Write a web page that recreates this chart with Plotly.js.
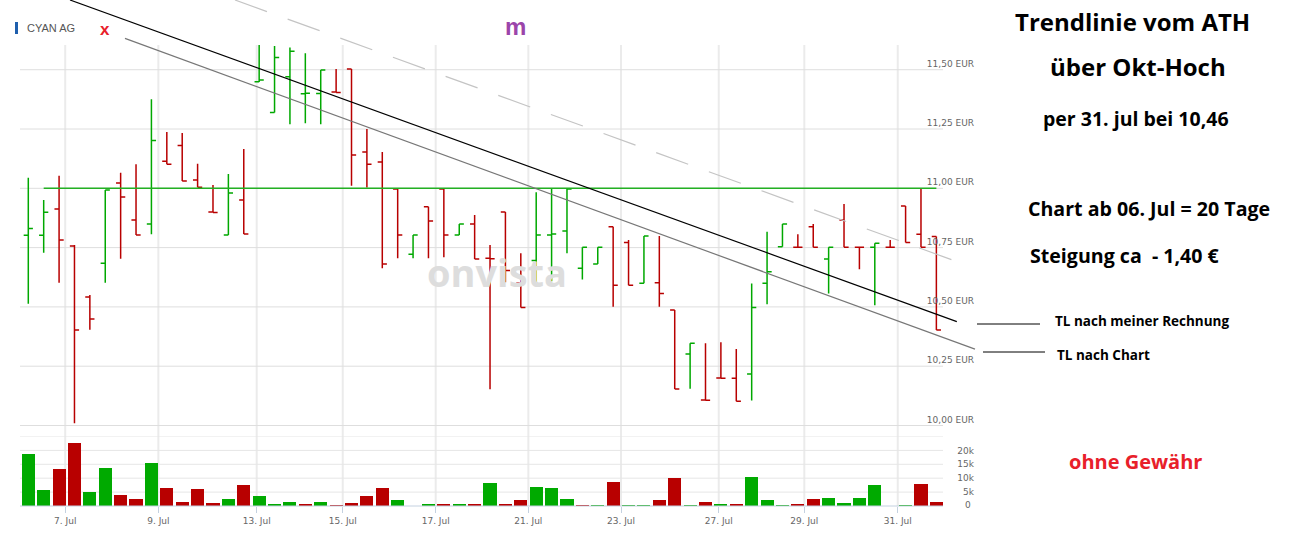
<!DOCTYPE html>
<html>
<head>
<meta charset="utf-8">
<script src="https://cdn.plot.ly/plotly-3.0.1.min.js"></script>
<style>html,body{margin:0;padding:0;background:#fff}#chart{width:1305px;height:537px}</style>
</head>
<body>
<div id="chart"></div>
<script>
// ---- data (bar index = 3 bars per trading day, 6 Jul .. 31 Jul) ----
const barIndex = Array.from({length: 60}, (_, i) => i);
const openP  = [10.802,10.802,10.913,10.757,10.542,10.684,11.022,10.866,10.850,11.114,
                11.181,11.035,10.900,10.803,10.951,11.449,11.320,11.470,11.399,11.400,
                11.406,11.503,11.153,11.111,10.997,10.722,10.922,10.997,10.803,10.850,
                10.705,10.900,10.600,10.696,10.803,10.820,10.663,10.681,10.838,10.772,
                10.600,10.602,10.487,10.301,10.107,10.200,10.199,10.217,10.600,10.754,
                10.752,10.838,10.702,10.866,10.752,10.751,10.752,10.925,10.806,10.797];
const highP  = [11.045,10.951,11.053,10.761,10.550,10.993,11.066,11.102,11.376,11.237,
                11.233,11.104,11.014,11.060,11.166,11.604,11.600,11.594,11.569,11.499,
                11.503,11.503,11.250,11.153,10.997,10.803,10.922,10.997,10.850,10.887,
                10.761,10.900,10.726,10.983,11.000,10.997,10.751,10.751,10.838,10.782,
                10.799,10.799,10.487,10.347,10.347,10.351,10.323,10.599,10.817,10.850,
                10.806,10.850,10.751,10.934,10.752,10.768,10.782,10.925,11.000,10.797];
const lowP   = [10.513,10.728,10.602,10.009,10.404,10.602,10.703,10.803,10.806,11.102,
                11.031,11.005,10.898,10.803,10.807,11.448,11.320,11.270,11.274,11.270,
                11.404,11.011,11.003,10.663,10.705,10.705,10.705,10.709,10.803,10.702,
                10.153,10.604,10.498,10.604,10.608,10.726,10.616,10.681,10.501,10.591,
                10.600,10.501,10.154,10.155,10.106,10.199,10.102,10.105,10.511,10.754,
                10.751,10.751,10.557,10.751,10.659,10.507,10.751,10.772,10.751,10.403];
const closeP = [10.831,10.899,10.782,10.403,10.449,10.993,10.963,10.803,11.202,11.102,
                11.031,11.005,10.898,10.980,10.807,11.457,11.552,11.578,11.401,11.499,
                11.404,11.140,11.102,10.681,10.803,10.803,10.862,10.803,10.850,10.702,
                10.703,10.654,10.498,10.803,10.807,10.997,10.751,10.751,10.591,10.591,
                10.799,10.557,10.154,10.347,10.106,10.199,10.102,10.498,10.648,10.850,
                10.751,10.751,10.751,10.751,10.751,10.768,10.751,10.772,10.751,10.403];
const volumeK = [18.8,5.8,13.4,22.8,5.1,13.7,4.0,2.5,15.5,6.5,
                 1.4,6.1,1.1,2.5,7.6,3.6,0.7,1.4,0.7,1.4,
                 0.4,1.1,3.6,6.5,2.2,0,0.7,0.7,0.7,0.7,
                 8.3,0.7,2.2,6.9,6.5,2.5,0.4,0.4,8.7,0.4,
                 0.4,2.2,10.1,0.4,1.4,0.7,0.7,10.5,2.2,0.4,
                 0.7,2.5,2.9,1.1,2.9,7.6,0,0.4,8.0,1.4];
// volume colour: 1 = up (green), 0 = down (red)
const volumeUp = [1,1,0,0,1,1,0,0,1,0,
                  0,0,0,1,0,1,1,1,0,1,
                  0,0,0,0,1,1,1,0,1,0,
                  1,0,0,1,1,1,0,1,0,1,
                  1,0,0,1,0,1,0,1,1,1,
                  0,0,1,1,1,1,1,1,0,0];
// tick labels (day boundaries on the bar-index axis)
const dayTickPos   = [2.40, 8.45, 14.84, 20.43, 26.47, 32.49, 38.51, 44.86, 50.42, 56.49];
const dayTickText  = ['7. Jul','9. Jul','13. Jul','15. Jul','17. Jul','21. Jul','23. Jul','27. Jul','29. Jul','31. Jul'];
const priceTicks   = [10.00, 10.25, 10.50, 10.75, 11.00, 11.25, 11.50];
const priceTickTxt = ['10,00 EUR','10,25 EUR','10,50 EUR','10,75 EUR','11,00 EUR','11,25 EUR','11,50 EUR'];
const volTicks     = [0, 5000, 10000, 15000, 20000, 25000];
const volTickTxt   = ['', '5k','10k','15k','20k',''];
// hand-drawn lines (bar index, price)
const level11X = [1.0, 59.0],   level11Y = [11.00, 11.00];
const tlOwnX   = [2.71, 60.33], tlOwnY   = [11.794, 10.438];
const tlChartX = [6.28, 61.51], tlChartY = [11.632, 10.322];
const athX     = [13.43, 60.93], athY    = [11.794, 10.677];

// ---- layout helpers ----
const L = 20, R = 977, T = 0, B = 506, GRID_END = 943;
const PX = x => (x - L) / (R - L);
const PY = y => (B - y) / (B - T);
const X_RANGE = [-0.539, 61.64], Y_RANGE = [9.981, 11.794], PRICE_BOTTOM = 430;
const toIdx = px => X_RANGE[0] + (px - L) / (R - L) * (X_RANGE[1] - X_RANGE[0]);
const toPrice = py => Y_RANGE[1] - (py - T) / (PRICE_BOTTOM - T) * (Y_RANGE[1] - Y_RANGE[0]);

const volColors = volumeUp.map(u => u ? '#00aa00' : '#b80000');

const traces = [
  {type:'scatter', mode:'text', x:[toIdx(497)], y:[toPrice(277)], text:['onvista'],
   textfont:{family:'"Open Sans", sans-serif', size:38, color:'#dddddd', weight:700},
   xaxis:'x', yaxis:'y', hoverinfo:'skip', cliponaxis:false},
  {type:'scatter', mode:'lines', x: athX, y: athY, xaxis:'x', yaxis:'y',
   line:{color:'#c4c4c4', width:1.2, dash:'34px,22px'}, hoverinfo:'skip'},
  {type:'ohlc', x: barIndex, open: openP, high: highP, low: lowP, close: closeP,
   xaxis:'x', yaxis:'y', tickwidth:0.3,
   increasing:{line:{color:'#00a800', width:1.5}},
   decreasing:{line:{color:'#b80000', width:1.5}}, hoverinfo:'skip'},
  {type:'scatter', mode:'lines', x: level11X, y: level11Y, xaxis:'x', yaxis:'y',
   line:{color:'#22b022', width:1.5}, hoverinfo:'skip'},
  {type:'scatter', mode:'lines', x: tlOwnX, y: tlOwnY, xaxis:'x', yaxis:'y',
   line:{color:'#000000', width:1.2}, hoverinfo:'skip'},
  {type:'scatter', mode:'lines', x: tlChartX, y: tlChartY, xaxis:'x', yaxis:'y',
   line:{color:'#777777', width:1.2}, hoverinfo:'skip'},
  {type:'bar', x: barIndex, y: volumeK.map(v => v * 1000), xaxis:'x', yaxis:'y2',
   marker:{color: volColors, line:{width:0}}, width:0.85, hoverinfo:'skip'}
];

const shapes = dayTickPos.map(t => ({type:'line', xref:'x', yref:'paper', x0:t, x1:t,
  y0:0, y1:PY(45), line:{color:'#ebebeb', width:2}, layer:'below'}));
priceTicks.forEach(v => shapes.push({type:'line', xref:'paper', yref:'y', x0:0, x1:PX(GRID_END),
  y0:v, y1:v, line:{color:'#dedede', width:1}, layer:'below'}));
volTicks.slice(1).forEach(v => shapes.push({type:'line', xref:'paper', yref:'y2', x0:0, x1:PX(GRID_END),
  y0:v, y1:v, line:{color:'#e6e6e6', width:1}, layer:'below'}));
shapes.push({type:'line', xref:'paper', yref:'paper', x0:0, x1:PX(GRID_END), y0:0, y1:0,
  line:{color:'#c4d1e0', width:1}});
shapes.push({type:'rect', xref:'paper', yref:'paper', x0:PX(15), x1:PX(18), y0:PY(34), y1:PY(22),
  fillcolor:'#1f5fad', line:{width:0}});
shapes.push({type:'line', xref:'paper', yref:'paper', x0:PX(977), x1:PX(1040), y0:PY(324), y1:PY(324),
  line:{color:'#000', width:1}});
shapes.push({type:'line', xref:'paper', yref:'paper', x0:PX(983), x1:PX(1045), y0:PY(352), y1:PY(352),
  line:{color:'#000', width:1}});

const textFont = '"Open Sans", sans-serif';
function ann(text, x, y, size, opts) {
  return Object.assign({text, xref:'paper', yref:'paper', x:PX(x), y:PY(y), showarrow:false,
    xanchor:'center', yanchor:'middle',
    font:{family:textFont, size, color:'#000', weight:700}}, opts || {});
}
const axisFont = {family:'"DejaVu Sans", Verdana, sans-serif', size:9, color:'#666'};
const annotations = [
  ann('0', 973, 505, 9, {xanchor:'right', font:axisFont}),
  ann('CYAN AG', 25, 28, 11, {xanchor:'left', font:{family:'"Liberation Sans", Arial, sans-serif', size:11, color:'#555'}}),
  ann('x', 105, 29, 17, {font:{family:'"Liberation Sans", Arial, sans-serif', size:17, color:'#e8202a', weight:700}}),
  ann('m', 515, 26, 24, {font:{family:'"Liberation Sans", Arial, sans-serif', size:24, color:'#9b45aa', weight:700}}),
  ann('Trendlinie vom ATH', 1132, 22, 24),
  ann('über Okt-Hoch', 1138, 66, 24),
  ann('per 31. jul bei 10,46', 1136, 118, 19.5),
  ann('Chart ab 06. Jul = 20 Tage', 1149, 209, 19.6),
  ann('Steigung ca  - 1,40 €', 1028, 255, 19.6, {xanchor:'left'}),
  ann('TL nach meiner Rechnung', 1053, 321, 13.5, {xanchor:'left'}),
  ann('TL nach Chart', 1055, 355, 13.5, {xanchor:'left'}),
  ann('ohne Gewähr', 1135, 461, 20, {font:{family:textFont, size:20, color:'#e8202a', weight:700}})
];

const layout = {
  width:1305, height:537, paper_bgcolor:'#fff', plot_bgcolor:'#fff',
  margin:{l:L, r:1305 - R, t:T, b:537 - B}, showlegend:false,
  xaxis:{anchor:'y2', range:X_RANGE, tickmode:'array', tickvals:dayTickPos, ticktext:dayTickText,
    ticks:'outside', ticklen:6, tickcolor:'#c4d1e0', showline:false,
    showgrid:false, zeroline:false, tickfont:axisFont, rangeslider:{visible:false}, fixedrange:true},
  yaxis:{domain:[PY(PRICE_BOTTOM), 1], range:Y_RANGE, side:'right', anchor:'x', tickmode:'array',
    tickvals:priceTicks, ticktext:priceTickTxt, ticklabelposition:'inside', ticks:'',
    ticklabelshift:-6, showgrid:false, zeroline:false, showline:false, tickfont:axisFont},
  yaxis2:{domain:[0, PY(436.5)], range:[0, 25000], side:'right', anchor:'x', tickmode:'array',
    tickvals:volTicks, ticktext:volTickTxt, ticklabelposition:'inside', ticks:'',
    showgrid:false, zeroline:false, showline:false, tickfont:axisFont},
  shapes, annotations, bargap:0
};
Plotly.newPlot('chart', traces, layout, {displayModeBar:false, staticPlot:true});
</script>
</body>
</html>
